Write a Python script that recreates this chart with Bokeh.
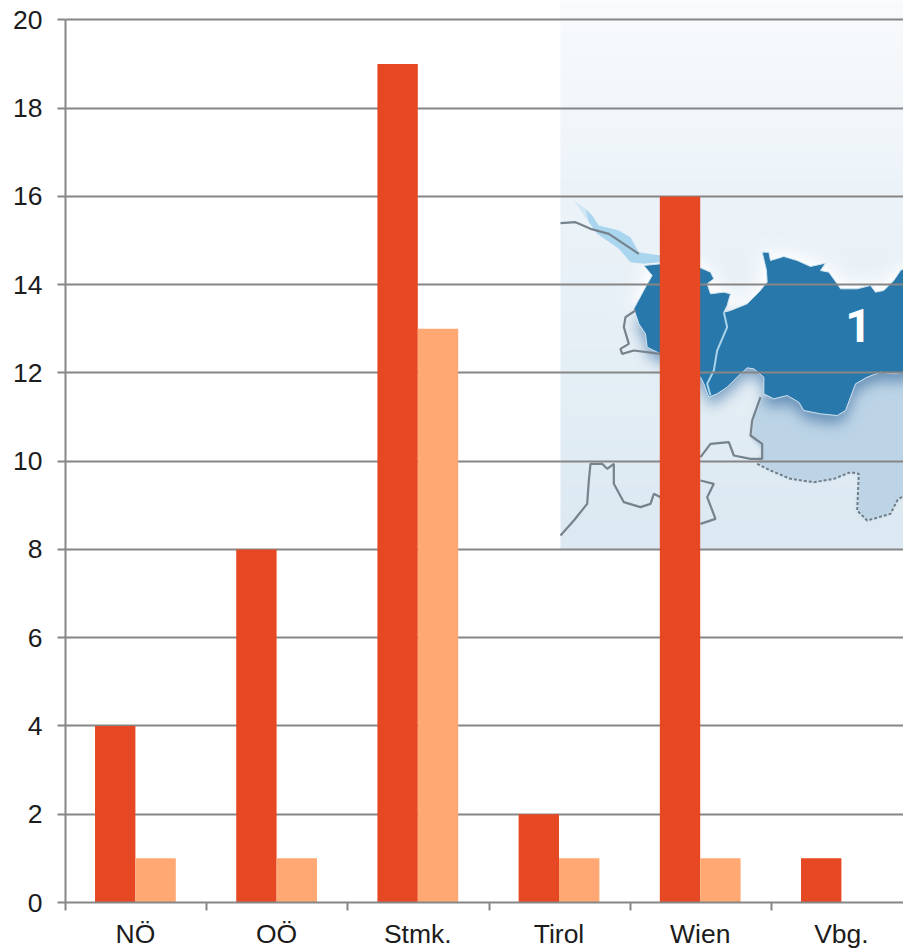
from bokeh.plotting import figure
from bokeh.embed import file_html
from bokeh.resources import INLINE
from bokeh.models import FixedTicker, LinearAxis, Range1d
from bokeh.core.properties import value
import numpy as np

categories = ["NÖ", "OÖ", "Stmk.", "Tirol", "Wien", "Vbg."]
series_a = [4, 8, 19, 2, 16, 1]
series_b = [1, 1, 13, 1, 1, 0]
y_ticks = list(range(0, 21, 2))

RED, PEACH, GREY, INK = "#e64823", "#ffa873", "#868686", "#1c1c1c"
FONT = "Liberation Sans"
PX = 141.2   # pixels per category
PY = 44.13   # pixels per unit
BASE = 902   # page y of the value axis

# Decorative backdrop map: outlines traced in page pixels (x, y) relative to (550, 180), at 3x
map_main = [(280,255),(330,250),(450,262),(480,275),(490,295),(470,310),(480,340),(520,335),(540,340),(530,375),(520,395),(540,390),(590,370),(625,335),(650,305),(648,270),(635,215),(655,215),(660,240),(700,228),(740,240),(780,258),(825,248),(810,270),(835,275),(860,310),(870,325),(920,325),(960,315),(975,335),(1000,330),(1030,300),(1050,270),(1059,265),(1059,575),(1030,580),(990,575),(950,590),(915,610),(900,650),(885,690),(860,705),(810,700),(760,690),(745,665),(710,645),(670,655),(640,640),(640,590),(610,565),(590,562),(560,590),(530,620),(500,640),(475,650),(460,610),(450,590),(330,520),(290,500),(285,460),(265,430),(250,385),(285,320),(305,285)]
map_south = [(635,650),(670,655),(710,645),(745,665),(760,690),(810,700),(860,705),(885,690),(900,650),(915,610),(950,590),(990,575),(1059,580),(1059,945),(1040,960),(1020,1000),(950,1020),(920,990),(925,880),(900,875),(850,895),(790,905),(720,895),(660,870),(620,850),(635,810),(600,770),(610,700)]
map_lake = [(105,85),(125,105),(145,135),(205,150),(240,170),(265,215),(330,225),(330,245),(280,250),(240,245),(205,205),(140,160),(115,125)]
map_lake_tip = [(70,60),(105,85),(115,125)]
map_borders = [
    [(30,128),(75,125),(120,145),(175,160),(265,220)],
    [(255,390),(225,410),(220,440),(235,490),(210,505),(215,520),(250,510),(330,520)],
    [(30,1065),(70,1020),(110,970),(115,900),(120,850),(155,850),(170,865),(190,850),(190,910),(220,965),(270,980),(300,970),(310,940),(330,950)],
    [(450,830),(480,790),(535,785),(550,825),(600,835),(635,835),(635,790),(600,765),(605,720),(630,650)],
    [(450,900),(490,910),(470,950),(495,1015),(450,1030)],
]
map_dotted = [(620,850),(660,870),(720,895),(790,905),(850,895),(900,875),(925,880),(920,990),(950,1020),(1020,1000),(1040,960),(1059,945)]
map_river = [(520,395),(530,440),(500,510),(490,570),(470,610),(480,645)]

def mx(pts): return [(550 + a / 3 - 65) / PX for a, b in pts]
def my(pts): return [(BASE - (180 + b / 3)) / PY for a, b in pts]

def raster(pts, W, H, x0, y0):
    xs = np.array([550 + a / 3 for a, b in pts]) - x0
    ys = np.array([180 + b / 3 for a, b in pts]) - y0
    X, Y = np.meshgrid(np.arange(W) + .5, np.arange(H) + .5)
    m = np.zeros((H, W), bool)
    for i in range(len(xs)):
        j = i - 1
        c = ((ys[i] > Y) != (ys[j] > Y)) & (X < (xs[j] - xs[i]) * (Y - ys[i]) / (ys[j] - ys[i] + 1e-9) + xs[i])
        m ^= c
    return m

def blur(a, r):
    k = np.ones(2 * r + 1) / (2 * r + 1)
    for _ in range(3):
        a = np.apply_along_axis(lambda v: np.convolve(np.pad(v, r, mode="edge"), k, "valid"), 0, a)
        a = np.apply_along_axis(lambda v: np.convolve(np.pad(v, r, mode="edge"), k, "valid"), 1, a)
    return a

# Backdrop gradient, south tint, glow above the map and shadow below it
W, H = 343, 549
x0, y0 = 560, 0
yy = np.arange(H) + .5
stops = [0, 180, 549]
rgb = [np.interp(yy, stops, [249, 237, 220])[:, None] * np.ones((H, W)),
       np.interp(yy, stops, [251, 244, 233])[:, None] * np.ones((H, W)),
       np.interp(yy, stops, [253, 249, 242])[:, None] * np.ones((H, W))]
mask = raster(map_main, W, H, x0, y0).astype(float)
south = blur(raster(map_south, W, H, x0, y0).astype(float), 1)
halo = np.clip(blur(mask, 10) * 2.2, 0, 1) * np.clip((340 - yy) / 50, 0, 1)[:, None]
shadow = blur(np.roll(mask, 8, axis=0), 6) * np.clip((yy - 300) / 30, 0, 1)[:, None]
for ch, tint, dark in zip(rgb, (188, 212, 230), (.45, .32, .20)):
    ch += (tint - ch) * south
    ch += (255 - ch) * halo * .8
    ch *= 1 - dark * shadow
img = np.zeros((H, W), dtype=np.uint32)
view = img.view(np.uint8).reshape((H, W, 4))
for i in range(3):
    view[..., i] = np.clip(rgb[i], 0, 255)[::-1]
view[..., 3] = 255

n = len(categories)
p = figure(frame_width=838, frame_height=BASE, output_backend="svg", toolbar_location=None,
           x_range=Range1d(0, 838 / PX), y_range=Range1d(0, BASE / PY),
           x_axis_type=None, y_axis_type=None,
           min_border_left=65, min_border_top=0, min_border_right=0, min_border_bottom=48)
p.outline_line_color = None
p.background_fill_color = None
p.border_fill_color = None

p.image_rgba(image=[img], x=(x0 - 65) / PX, y=(BASE - 549) / PY, dw=W / PX, dh=H / PY, level="image")
p.patch(mx(map_lake_tip), my(map_lake_tip), fill_color="#a9d5ee", fill_alpha=.4, line_color=None, level="image")
p.patch(mx(map_lake), my(map_lake), fill_color="#a9d5ee", line_color=None, level="image")
p.patch(mx(map_main), my(map_main), fill_color="#2878ab", line_color="#cfe3f0", line_width=1, level="image")
for b_ in map_borders:
    p.line(mx(b_), my(b_), line_color="#76828c", line_width=2.2, level="image")
p.line(mx(map_dotted), my(map_dotted), line_color="#6f7d88", line_width=2, line_dash="3 2", level="image")
p.line(mx(map_river), my(map_river), line_color="#a9d3ea", line_width=2, level="image")
p.text(x=[(858 - 65) / PX], y=[(BASE - 324.5) / PY], text=["1"], text_color="#ffffff",
       text_font=value("Roboto"), text_font_style="bold", text_font_size="46px",
       text_align="center", text_baseline="middle", level="image")

SHIFT = -0.7 / PX
yax = LinearAxis(ticker=FixedTicker(ticks=y_ticks), bounds=(0, 20))
xax = LinearAxis(ticker=FixedTicker(ticks=[i + .5 + SHIFT for i in range(n)], minor_ticks=list(range(n + 1))),
                 major_label_overrides={i + .5 + SHIFT: c for i, c in enumerate(categories)})
for ax in (xax, yax):
    ax.axis_line_color = GREY
    ax.axis_line_width = 2
    ax.major_label_text_font = FONT
    ax.major_label_text_font_size = "26.5px"
    ax.major_label_text_color = INK
yax.major_tick_line_color = GREY
yax.major_tick_line_width = 2
yax.major_tick_out = 8
yax.major_tick_in = 0
yax.minor_tick_line_color = None
yax.major_label_standoff = 15
xax.major_tick_line_color = None
xax.minor_tick_line_color = GREY
xax.minor_tick_line_width = 2
xax.minor_tick_out = 8
xax.minor_tick_in = 0
xax.major_label_standoff = 8
p.add_layout(yax, "left")
p.add_layout(xax, "below")
p.hspan(y=y_ticks[1:], line_color=GREY, line_width=2, level="underlay")

BW = 0.286
xs = np.arange(n) + .5 + SHIFT
p.vbar(x=xs - BW / 2, top=series_a, bottom=0, width=BW, fill_color=RED, line_color=None, level="glyph")
p.vbar(x=xs + BW / 2, top=series_b, bottom=0, width=BW, fill_color=PEACH, line_color=None, level="glyph")

open("out.html", "w").write(file_html(p, INLINE))
